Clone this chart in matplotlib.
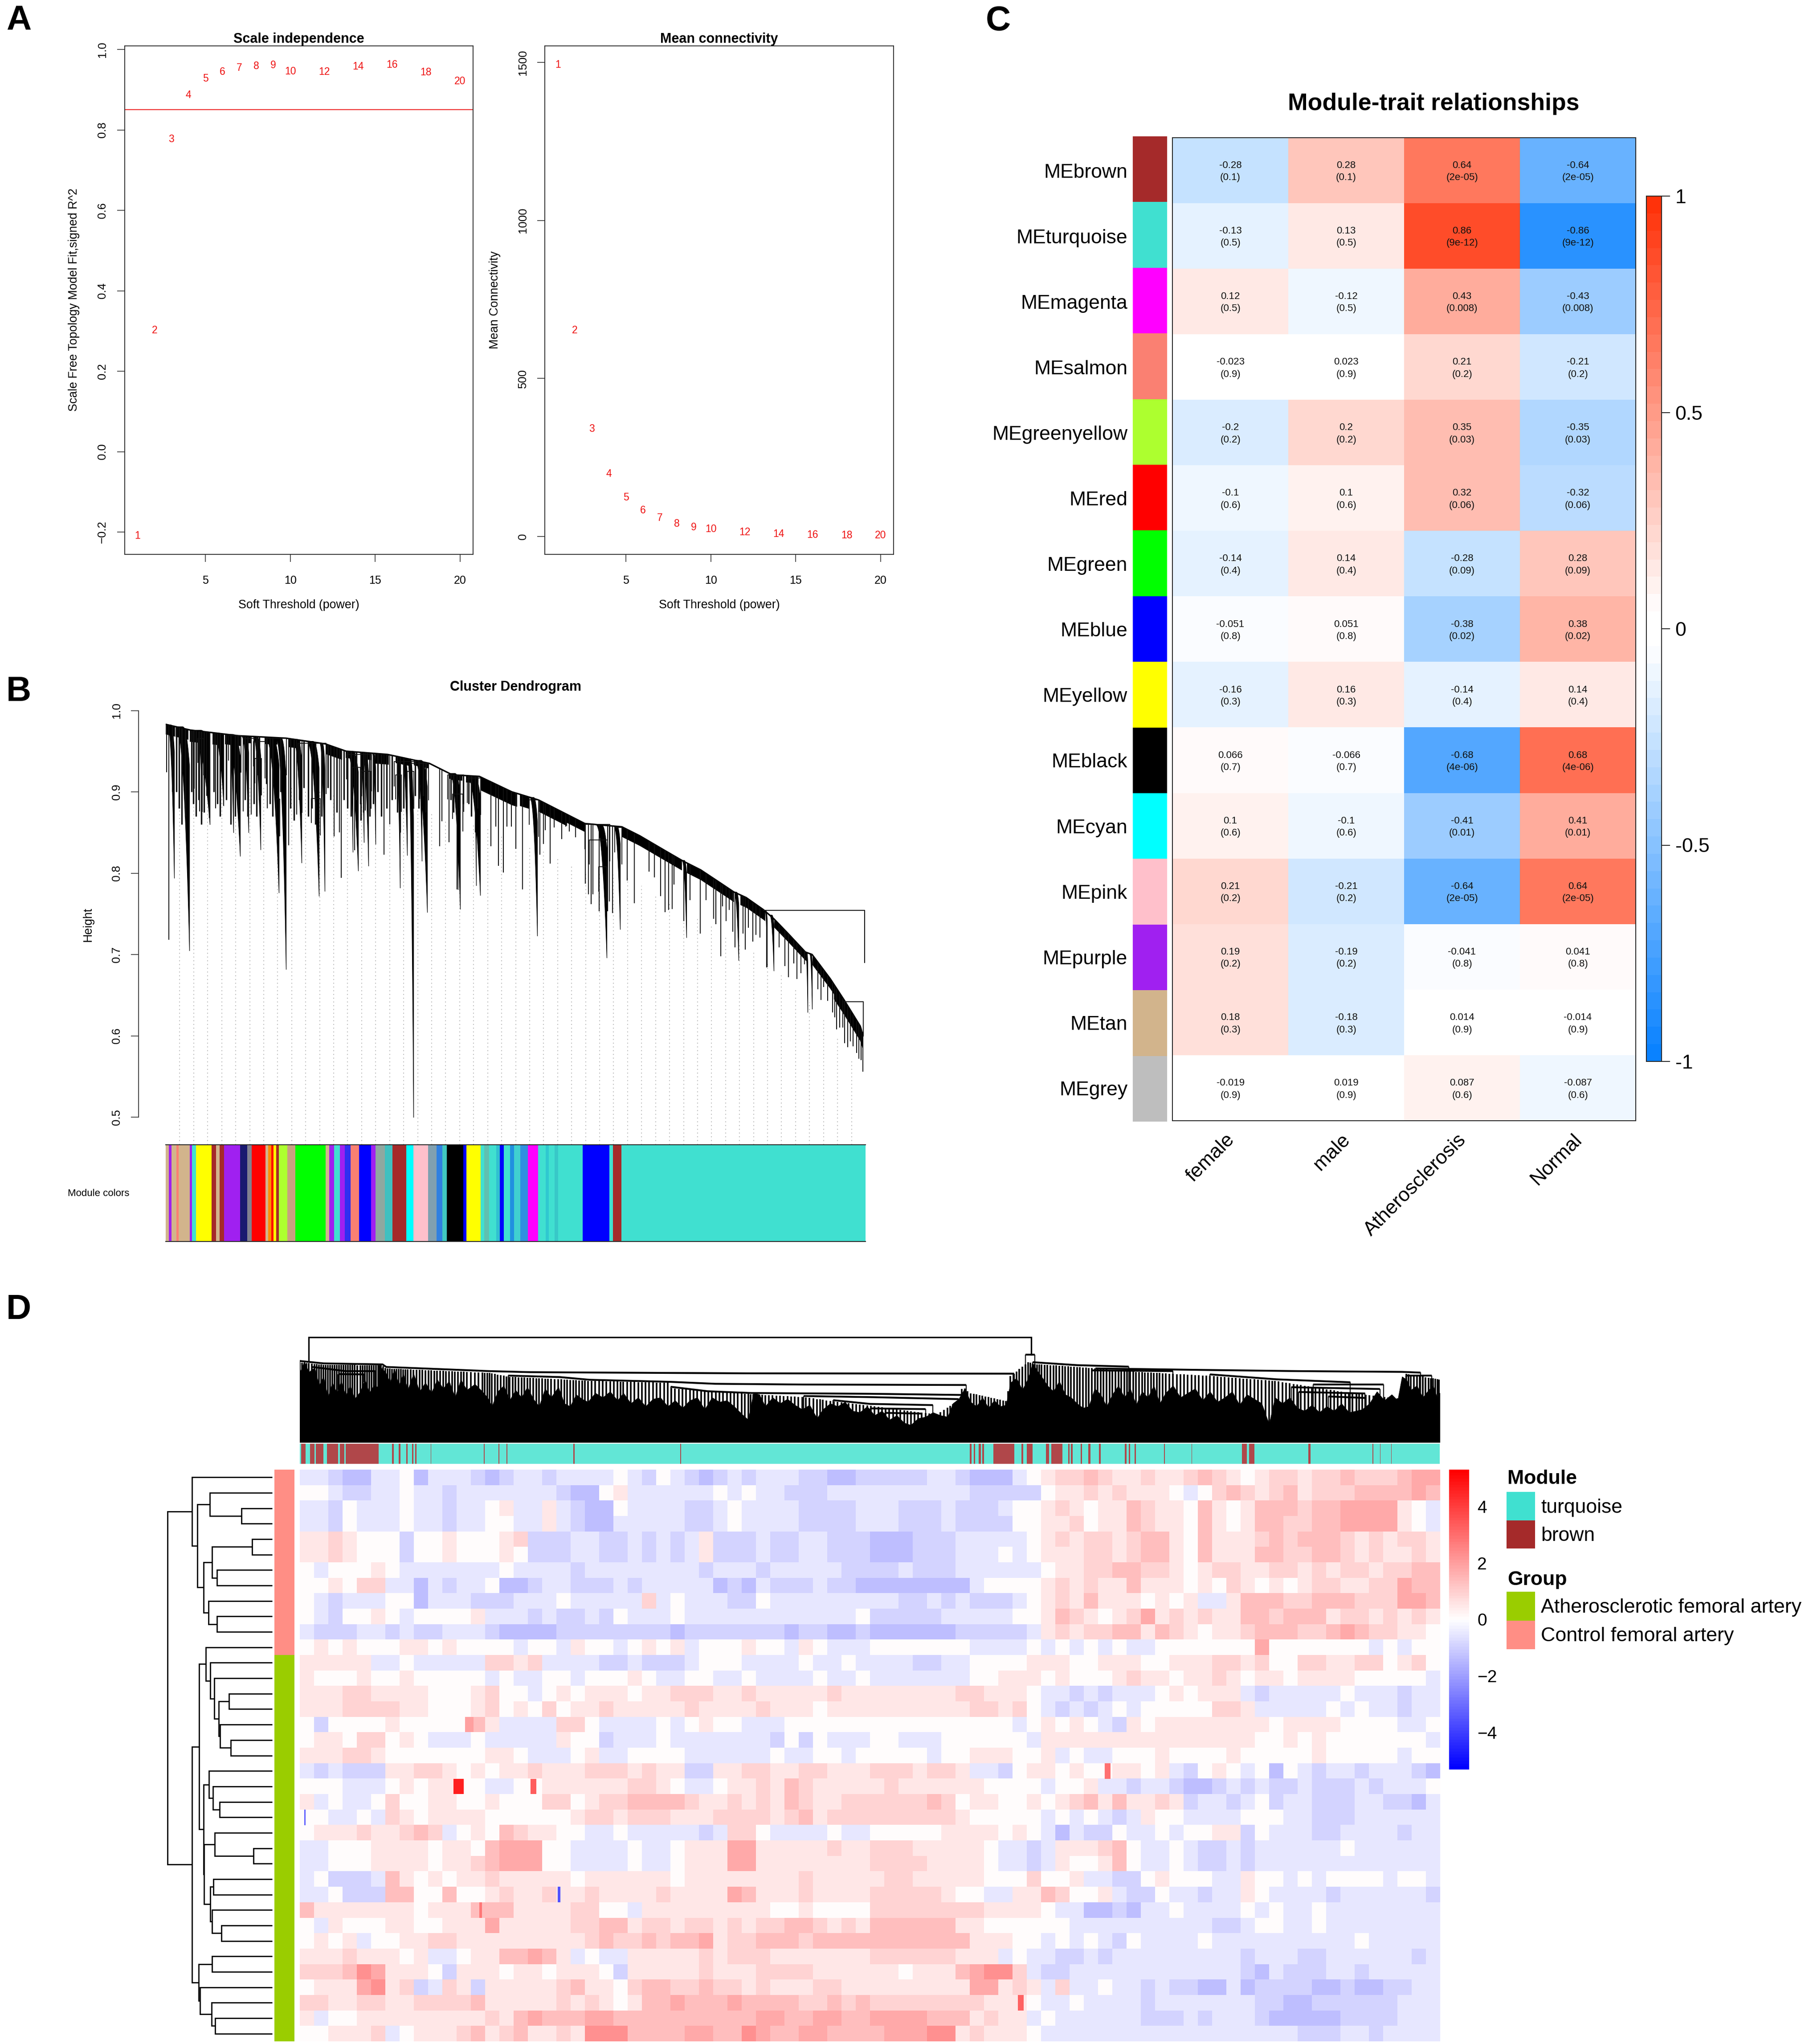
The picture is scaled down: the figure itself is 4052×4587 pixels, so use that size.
import numpy as np
import matplotlib
matplotlib.use("Agg")
import matplotlib.pyplot as plt
from matplotlib.colors import LinearSegmentedColormap
from matplotlib.patches import Rectangle

plt.rcParams['font.family'] = ['Liberation Sans', 'DejaVu Sans']
W, H = 4052, 4587
fig = plt.figure(figsize=(W / 100, H / 100), dpi=100, facecolor='white')

def ax_px(x0, y0, x1, y1, **kw):
    return fig.add_axes([x0 / W, 1 - y1 / H, (x1 - x0) / W, (y1 - y0) / H], **kw)

def ftext(x, y, s, **kw):
    kw.setdefault('ha', 'center')
    kw.setdefault('va', 'center')
    return fig.text(x / W, 1 - y / H, s, **kw)

# ---------- Panel A data ----------
POWERS = [1, 2, 3, 4, 5, 6, 7, 8, 9, 10, 12, 14, 16, 18, 20]
SFT_FIT = [-0.209, 0.301, 0.777, 0.886, 0.927, 0.944, 0.954, 0.958, 0.961, 0.945, 0.944, 0.957, 0.962, 0.943, 0.921]
MEAN_K = [1492, 652, 340, 198, 124, 82, 59, 40, 29, 23, 13, 8, 5, 4, 3]

# ---------- Panel B data (x: leaf position, y: height) ----------
ENV_X = [0, 55, 163, 270, 358, 405, 498, 592, 643, 704, 777, 837, 941, 1024, 1064, 1120, 1161, 1201, 1245, 1275, 1303, 1342, 1365, 1395, 1436, 1451, 1492, 1523, 1559, 1565]
ENV_H = [.983, .976, .969, .966, .959, .950, .946, .935, .921, .919, .900, .890, .861, .857, .846, .828, .815, .804, .788, .777, .770, .755, .744, .727, .703, .700, .670, .644, .612, .601]
BANDS = [(0, 20, .012), (22, 50, .012), (54, 99, .014), (105, 130, .014), (133, 167, .012), (174, 190, .008), (222, 250, .008), (276, 300, .01), (360, 395, .012), (404, 425, .008),
         (440, 460, .008), (470, 500, .012), (516, 545, .008), (557, 590, .006), (636, 665, .006), (674, 700, .008),
         (707, 788, .016), (795, 816, .014), (838, 900, .014), (900, 941, .010), (1024, 1158, .012),
         (1170, 1275, .012), (1290, 1345, .012), (1366, 1440, .010), (1452, 1500, .012), (1500, 1565, .018)]
FANS = [(3, 19, .794), (21, 53, .705), (54, 99, .860), (70, 82, .876), (105, 130, .883), (133, 167, .821), (140, 152, .850),
        (169, 186, .850), (195, 213, .829), (222, 254, .776), (246, 270, .682), (285, 305, .813), (315, 344, .772), (345, 357, .778),
        (404, 432, .803), (412, 420, .826), (440, 455, .809), (435, 445, .838), (463, 471, .836), (516, 526, .782), (530, 542, .822),
        (542, 556, .500), (557, 587, .752), (565, 575, .815), (636, 661, .756), (650, 656, .780), (674, 706, .773), (690, 697, .785),
        (816, 834, .723), (964, 990, .696), (1005, 1020, .731), (1158, 1169, .721), (1275, 1286, .693), (1345, 1350, .685),
        (1355, 1365, .680), (1436, 1441, .629), (1445, 1451, .633)]
SPIKE_X = [2, 7, 15, 64, 76, 92, 112, 130, 174, 192, 228, 276, 294, 306, 360, 378, 390, 394, 424, 448, 490, 503, 615, 620, 636, 654, 695, 730, 741, 747, 758, 766, 776,
           786, 801, 840, 848, 852, 863, 872, 889, 898, 906, 920, 942, 949, 955, 959, 973, 992, 996, 1003, 1036, 1052, 1085, 1097, 1111, 1121, 1129, 1137, 1141, 1163, 1177,
           1200, 1213, 1230, 1235, 1246, 1250, 1258, 1265, 1273, 1278, 1296, 1301, 1308, 1318, 1325, 1334, 1349, 1377, 1390, 1398, 1410, 1417, 1426, 1434, 1464, 1471, 1477, 1486,
           1497, 1502, 1506, 1513, 1520, 1524, 1531, 1537, 1543, 1551, 1556, 1561, 1565]
SPIKE_H = [.924, .718, .90, .904, .876, .895, .880, .883, .876, .872, .880, .834, .872, .874, .897, .845, .850, .794, .828, .877, .823, .860, .833, .864, .838, .780, .850, .833, .857, .809, .801, .857, .857,
           .830, .780, .823, .836, .853, .812, .856, .842, .857, .851, .844, .787, .774, .762, .774, .753, .753, .765, .751, .791, .763, .802, .795, .772, .752, .755, .756, .786, .741, .767,
           .726, .767, .744, .737, .698, .759, .741, .755, .728, .709, .726, .706, .733, .716, .724, .721, .684, .709, .686, .672, .689, .670, .677, .688, .657, .644, .660, .643,
           .629, .623, .608, .610, .610, .591, .586, .593, .587, .579, .572, .570, .556]
SPIKE2_X = [24, 30, 36, 44, 58, 62, 68, 74, 80, 86, 98, 108, 116, 122, 136, 146, 156, 162, 178, 184, 198, 204, 210, 226, 234, 240, 258, 280, 288, 300, 310, 320, 328, 336, 350, 364, 370, 384, 400, 408, 416, 428, 438, 444, 452, 458, 466, 476, 484, 496, 508, 520, 526, 534, 560, 568, 578, 584, 640, 646, 660, 668, 680, 686, 700]
SPIKE2_H = [.90, .88, .86, .87, .90, .885, .87, .89, .86, .875, .868, .90, .885, .87, .89, .86, .87, .88, .89, .87, .885, .87, .89, .91, .885, .87, .90, .88, .865, .89, .905, .87, .88, .86, .87, .905, .89, .875, .89, .88, .87, .89, .865, .875, .89, .87, .885, .90, .87, .88, .89, .875, .85, .88, .895, .88, .895, .875, .89, .875, .88, .885, .885, .87, .88]
BRACKETS = [(297, 360, .960), (141, 169, .969), (197, 223, .962), (223, 271, .966), (174, 207, .966), (406, 462, .946), (513, 570, .937),
            (549, 590, .935), (542, 557, .925), (633, 669, .921), (677, 707, .917), (327, 347, .892), (248, 256, .891), (419, 437, .930),
            (440, 461, .925), (644, 667, .897), (516, 529, .921), (200, 215, .941), (72, 85, .966), (941, 997, .860), (951, 992, .841),
            (1008, 1024, .856), (972, 990, .808), (816, 837, .890)]
TAIL_BRACKET_1 = (1342, 1569, .754, .690)
TAIL_BRACKET_2 = (1523, 1566, .642, .600)
GUIDE_COUNT = 49
MODULE_EDGES = [278, 283, 288, 296, 300, 318, 322, 329, 355, 362, 368, 376, 403, 415, 422, 445, 450, 455, 459, 463, 468, 482, 495, 546, 552, 560, 570, 578, 588, 602, 622, 630, 645, 658, 681, 693, 718, 732, 742, 749, 777, 782, 806, 812, 820, 832, 838, 845, 855, 862, 872, 885, 902, 915, 920, 930, 936, 977, 1022, 1028, 1042, 1451]
MODULE_COLS = ['#D2B48C', '#A020F0', '#D2B48C', '#FA8072', '#D2B48C', '#A020F0', '#40E0D0', '#FFFF00', '#A52A2A', '#D2B48C', '#A52A2A', '#A020F0', '#191970', '#808090', '#FF0000', '#D2B48C', '#FF8C00', '#FF0000', '#FFFF00', '#A52A2A', '#ADFF2F', '#C8A080', '#00FF00', '#D2B48C', '#A020F0', '#40E0D0', '#A020F0', '#3030F0', '#FA8072', '#0000FF', '#A020F0', '#8FA8A0', '#40C0C0', '#A52A2A', '#00FFFF', '#FFC0CB', '#80A0B0', '#3080E0', '#40C8C0', '#000000', '#0000FF', '#FFFF00', '#40E0D0', '#60C0B0', '#40E0D0', '#30C0D0', '#0000FF', '#40E0D0', '#2090E0', '#40D0D0', '#3090E0', '#FF00FF', '#40E0D0', '#30C8D0', '#40E0D0', '#38C8C8', '#40E0D0', '#0000FF', '#40E0D0', '#A52A2A', '#40E0D0']

# ---------- Panel C data ----------
MODULES = ['MEbrown', 'MEturquoise', 'MEmagenta', 'MEsalmon', 'MEgreenyellow', 'MEred', 'MEgreen', 'MEblue', 'MEyellow', 'MEblack', 'MEcyan', 'MEpink', 'MEpurple', 'MEtan', 'MEgrey']
MODULE_STRIP = ['#A52A2A', '#40E0D0', '#FF00FF', '#FA8072', '#ADFF2F', '#FF0000', '#00FF00', '#0000FF', '#FFFF00', '#000000', '#00FFFF', '#FFC0CB', '#A020F0', '#D2B48C', '#BEBEBE']
TRAITS = ['female', 'male', 'Atherosclerosis', 'Normal']
COR = [['-0.28', '0.28', '0.64', '-0.64'], ['-0.13', '0.13', '0.86', '-0.86'], ['0.12', '-0.12', '0.43', '-0.43'],
       ['-0.023', '0.023', '0.21', '-0.21'], ['-0.2', '0.2', '0.35', '-0.35'], ['-0.1', '0.1', '0.32', '-0.32'],
       ['-0.14', '0.14', '-0.28', '0.28'], ['-0.051', '0.051', '-0.38', '0.38'], ['-0.16', '0.16', '-0.14', '0.14'],
       ['0.066', '-0.066', '-0.68', '0.68'], ['0.1', '-0.1', '-0.41', '0.41'], ['0.21', '-0.21', '-0.64', '0.64'],
       ['0.19', '-0.19', '-0.041', '0.041'], ['0.18', '-0.18', '0.014', '-0.014'], ['-0.019', '0.019', '0.087', '-0.087']]
PVAL = [['0.1', '0.1', '2e-05', '2e-05'], ['0.5', '0.5', '9e-12', '9e-12'], ['0.5', '0.5', '0.008', '0.008'],
        ['0.9', '0.9', '0.2', '0.2'], ['0.2', '0.2', '0.03', '0.03'], ['0.6', '0.6', '0.06', '0.06'],
        ['0.4', '0.4', '0.09', '0.09'], ['0.8', '0.8', '0.02', '0.02'], ['0.3', '0.3', '0.4', '0.4'],
        ['0.7', '0.7', '4e-06', '4e-06'], ['0.6', '0.6', '0.01', '0.01'], ['0.2', '0.2', '2e-05', '2e-05'],
        ['0.2', '0.2', '0.8', '0.8'], ['0.3', '0.3', '0.9', '0.9'], ['0.9', '0.9', '0.6', '0.6']]

# ---------- Panel D data ----------
# each row: 80 columns of levels; 4 means 0, each step is 0.45 on the colour scale
HEAT_ROWS = [
 "3321133413 3321233233 3343243212 3233322112 2222332111 3456676556 5567654566 5667666788",
 "4432233433 2333333321 1453333334 3433222333 3333333222 2245565655 5434676567 5666777787",
 "3324333433 2334533532 1143333223 4333322223 3322232223 4456545576 5547545777 6778888543",
 "3324333433 2334433532 1133333223 4333322223 3322232222 4455645576 5547545776 6778888543",
 "5565444244 5444562223 3223232352 2232233222 1112223333 3456566567 7547555676 7776565665",
 "5565444244 5444542223 3223232352 2232233222 1112223334 3455566567 7547555776 6776565565",
 "4344454333 3333433332 3333333323 3323333322 2232223333 3345566776 6545665566 5656656677",
 "4454663313 2334112332 2232333331 2132223221 1111111344 4456565575 5545465454 5665566877",
 "4323334413 3322233343 3333634333 2243333333 3322323222 3456575554 5453357776 6777666887",
 "4324454344 4453332322 3243334333 3333333334 2222233333 4457654568 5656557767 7756656565",
 "3222332322 3332111122 2222221222 2222122112 1111112222 2356566775 7654556777 6678766554",
 "4545444554 5444434435 4434545344 4544354333 4444444333 3434343433 4444444844 4444434344",
 "5555533433 3336656333 3223222344 4333343343 3332233444 4555445554 4555665644 6655664564",
 "5444544544 4443433443 4445433443 3433334334 3333333445 5545444565 5455654554 5555444443",
 "5556655554 4456443454 5554556665 5655555655 5555556655 5433232333 4545553233 3334333233",
 "5556666554 4456454645 5655555655 5565554555 5555555665 6432323434 4444665333 3343433233",
 "4244445444 4475333366 4333343454 4333444444 4444444444 3454543254 5555555545 5554444334",
 "4554664543 3343333354 4233343333 3332424333 4433344444 4355555555 5555555445 4544444443",
 "5556654444 4445543334 5334444333 3334334434 4444344555 4453433444 5444454444 4544444344",
 "3232225566 5454556555 6665655225 5665566555 6665665332 4554544554 5324543414 3233233321",
 "4443334545 5443344555 5556654334 5565765555 5655555544 4434453323 3211232322 3222323334",
 "5343346445 5445444664 5667777655 6565765566 6666764554 4545675755 6523323423 3222332213",
 "4433436545 5554444445 6656665556 6665675666 6666665444 4434343235 4433334443 3222333333",
 "4555655676 3454765544 3343333323 6643333433 4444455554 5431322433 4344552433 3223333233",
 "3344455554 5547888443 3334334555 8855555655 6665555543 3235556743 3432232333 3334333333",
 "3344455554 5567888443 3334334555 8855555555 6666555543 3235445743 3432232333 3333333333",
 "3422237545 4556555554 5555554555 5555565555 5665555544 4644533224 5444335443 4344443443",
 "3342227744 7445655655 6555565555 8755565555 6666654433 5576445322 4332335433 3323333332",
 "7555555545 5577755556 6443555555 5554454444 6666666655 5543311213 3433334343 3433333333",
 "4354445544 5558555556 6775665665 6566776565 7777775544 4444333333 3333223443 3433333333",
 "4545344556 6555555555 6766767785 6677767777 7777777555 4434343243 3334333333 3333433333",
 "5556555453 3455778753 4335555565 6665555555 6666665553 4332232333 3333332333 2233333323",
 "6667985554 2555455455 5425555565 5566665555 5545557899 6322333333 3333332132 2233233333",
 "4555895623 6525555567 5546776676 6565556655 5555555885 6536334332 3221131222 2112112233",
 "6655665566 6675555565 6545778777 8777766767 6666666655 5433433332 3333333221 1222222333",
 "5344555555 5556578777 8877777777 7788778877 8888777565 5343333332 2232333211 1112222333",
 "4455563455 5675675565 9997777887 7987788777 7888995655 5433333333 3333333333 2223323333",
]
LEVEL_STEP = 0.45
# narrow intense stripes: row, first column, last column, value
THIN_ROW = [20, 20, 19, 27, 22, 34, 16, 28]
THIN_C0 = [10.3, 15.7, 56.0, 17.6, -0.2, 49.9, 11.1, 12.1]
THIN_C1 = [11.0, 16.1, 56.4, 17.8, -0.1, 50.3, 11.7, 12.3]
THIN_VAL = [4.6, 3.3, 2.9, -3.6, -3.2, 3.2, 2.0, 2.8]
HEAT_LIM = 5.32
N_CONTROL = 12
N_ATHERO = 25
# nested merges: (height, left, right) with leaves as row numbers
ROW_TREE = (235,
    (180, 0, (168, (140, 1, (69, 2, 3)),
              (154, (135, (45, 4, 5), (124, 6, 7)), (143, 8, (124, 9, 10))))),
    (180,
     (164, (149, 11, (139, 12, (130, 13, (120, (97, 14, 15), (117, 16, (93, 17, 18)))))),
           (154, (142, 19, (133, 20, (118, 21, 22))),
                 (153, (129, 23, (42, 24, 25)),
                       (139, (132, 26, 27), (135, 28, (114, 29, 30)))))),
     (165, (135, 31, 32), (162, 33, (136.5, 34, (128, 35, 36))))))
# column dendrogram: floor of the solid mass, and the height its hair lines reach
MASS_X = [8,14,20,28,34,40,46,52,58,64,70,76,82,90,96,102,108,114,118,124,130,136,142,148,154,162,170,178,186,194,202,210,218,226,234,245,255,262,268,276,284,292,300,308,316,324,332,340,348,358,366,374,382,390,398,408,418,428,438,446,456,466,476,486,496,506,516,526,536,546,556,566,576,586,596,606,615,622,630,638,648,658,668,678,688,698,708,716,726,736,746,756,766,776,786,796,806,816,826,835,845,855,865,875,885,892,900,908,916,924,932,940,948,956,964,970,978,986,994,1000,1006,1012,1020,1028,1036,1044,1052,1060,1068,1076,1084,1092,1100,1108,1116,1124,1132,1140,1148,1156,1164,1172,1180,1190,1200,1210,1220,1230,1240,1250,1260,1270,1280,1290,1300,1310,1320,1328,1338,1348,1358,1368,1378,1388,1398,1408,1418,1428,1438,1446,1456,1466,1476,1486,1494,1500,1506,1512,1520,1528,1536,1542,1548,1551]
MASS_H = [467,540,470,500,380,440,300,400,330,410,310,380,290,340,420,330,380,370,500,470,400,490,380,460,350,460,340,400,330,420,360,410,300,420,350,390,340,300,240,340,380,280,350,300,370,290,240,360,300,370,260,240,320,290,270,330,300,340,280,330,260,300,240,290,300,240,280,230,280,300,220,300,270,280,240,190,150,330,320,240,300,260,290,250,220,250,160,220,260,240,270,210,200,240,180,210,150,180,130,115,160,170,200,180,170,260,290,360,270,240,300,230,280,240,250,400,430,350,430,530,480,440,380,340,410,320,300,260,230,240,360,320,240,320,380,300,360,250,340,300,380,260,330,380,300,330,360,280,340,270,300,340,250,320,290,260,120,300,260,300,230,210,250,200,240,210,260,200,210,220,260,340,280,320,280,440,420,350,380,300,350,380,290,330]
UPPER_X = [8, 40, 120, 125, 265, 290, 400, 510, 511, 620, 690, 730, 780, 870, 900, 905, 915, 965, 970, 995, 1000, 1060, 1130, 1240, 1330, 1430, 1500, 1505, 1551]
UPPER_H = [535, 520, 515, 495, 465, 440, 412, 398, 362, 322, 302, 275, 245, 185, 280, 375, 330, 275, 445, 540, 525, 505, 475, 445, 410, 330, 290, 460, 420]
TOP_BRACKET = (20, 998, 705, 545, 587)
STAIRS = [
 [(8,545),(40,529),(120,522),(125,505),(265,477),(320,470),(425,467),(620,462),(975,460)],
 [(290,447),(360,437),(400,419),(510,405),(570,392),(690,387),(910,384)],
 [(510,372),(560,342),(620,330),(780,325),(905,317)],
 [(690,310),(785,302),(900,289)],
 [(730,282),(780,257),(865,249)],
 [(780,227),(855,222)],
 [(800,197),(850,192)],
 [(25,505),(70,477),(110,477)],
 [(60,457),(95,455)],
 [(990,587),(1003,587)],
 [(1000,537),(1060,517),(1130,507)],
 [(1085,495),(1230,485),(1360,477),(1500,472),(1525,467)],
 [(1080,482),(1190,477)],
 [(1240,455),(1330,422),(1430,402)],
 [(1380,387),(1475,387)],
 [(1350,369),(1470,357)],
 [(1360,337),(1450,327)],
 [(1400,307),(1450,297)],
 [(1505,447),(1540,447)],
]
BROWN_SPANS = [(10,16),(22,28),(30,40),(45,60),(62,68),(70,115),(133,135),(142,144),(152,154),(160,162),(164,166),(185,186),(257,258),(277,278),(288,289),(378,380),(523,524),
               (915,917),(920,922),(927,930),(932,934),(947,975),(985,987),(992,1000),(1018,1022),(1025,1040),(1048,1050),(1052,1054),(1065,1067),(1075,1078),(1090,1092),(1125,1127),(1130,1132),(1138,1140),(1178,1179),(1215,1216),(1283,1290),(1293,1300),(1373,1376),(1460,1461),(1470,1471),(1485,1486)]
MODULE_LEGEND = ['turquoise', 'brown']
GROUP_LEGEND = ['Atherosclerotic femoral artery', 'Control femoral artery']
LINE = '#222222'

# ================= Panel A =================
for (box, xl, yl, xs, ys, yticks, ytl, title, ylabel, ylx, tlx) in [
    ((280, 103, 1062, 1244), (0.25, 20.77), (-0.2554, 1.0089), POWERS, SFT_FIT,
     [-0.2, 0, 0.2, 0.4, 0.6, 0.8, 1.0], ['\u22120.2', '0.0', '0.2', '0.4', '0.6', '0.8', '1.0'],
     'Scale independence', 'Scale Free Topology Model Fit,signed R^2', 166, 230),
    ((1223, 103, 2006, 1244), (0.227, 20.76), (-56.4, 1552), POWERS, MEAN_K,
     [0, 500, 1000, 1500], ['0', '500', '1000', '1500'], 'Mean connectivity', 'Mean Connectivity', 1111, 1174)]:
    ax = ax_px(*box)
    ax.set_xlim(xl); ax.set_ylim(yl)
    for x, y in zip(xs, ys):
        ax.text(x, y, str(x), color='#EE1111', fontsize=16.5, ha='center', va='center')
    ax.set_xticks([5, 10, 15, 20])
    ax.set_yticks(yticks)
    ax.set_yticklabels([])
    ax.tick_params(length=12, width=1.1, color=LINE, labelsize=18, pad=22)
    for s in ax.spines.values():
        s.set_linewidth(1.3); s.set_color(LINE)
    for t, lab in zip(yticks, ytl):
        ypx = box[1] + (yl[1] - t) / (yl[1] - yl[0]) * (box[3] - box[1])
        ftext(tlx, ypx, lab, rotation=90, fontsize=18.5)
    ftext((box[0] + box[2]) / 2, 88, title, fontsize=22, fontweight='bold')
    ftext((box[0] + box[2]) / 2, 1358, 'Soft Threshold (power)', fontsize=19.3)
    ftext(ylx, 673, ylabel, rotation=90, fontsize=19.3)
    if title.startswith('Scale'):
        ax.axhline(0.85, color='#EE3333', lw=1.6)

# ================= Panel B =================
axb = ax_px(372, 1560, 1943, 2569)
hbot = 1 - (2569 - 1594.5) / 1825
htop = 1 + (1594.5 - 1560) / 1825
axb.set_xlim(0, 1571); axb.set_ylim(hbot, htop)
axb.patch.set_alpha(0)
def env(x):
    return np.interp(x, ENV_X, ENV_H)
guides = np.arange(1, GUIDE_COUNT + 1) * 1571 / (GUIDE_COUNT + 1)
axb.vlines(guides, hbot, env(guides) - 0.06, color='#A8A8A8', lw=1.1, linestyles=(0, (1.5, 4)), zorder=1)
axb.plot(ENV_X, ENV_H, color='k', lw=2.4, zorder=3, solid_joinstyle='miter')
for x0, x1, th in BANDS:
    xx = np.linspace(x0, x1, 60)
    axb.fill_between(xx, env(xx) - th, env(xx), color='k', lw=0.5, zorder=3)
for x0, x1, tip in FANS:
    s = np.linspace(0, 1, 60)
    xx = x0 + (x1 - x0) * s
    top = float(env(x0))
    low = top - (top - tip) * s ** 2.5
    up = top - (top - tip) * np.clip(s - 0.5, 0, None) ** 2.5
    axb.fill_between(xx, low, up, color='k', lw=0.8, zorder=3)
axb.vlines(SPIKE_X, SPIKE_H, env(np.array(SPIKE_X)), color='#111111', lw=1.5, zorder=3)
axb.vlines(SPIKE2_X, SPIKE2_H, env(np.array(SPIKE2_X)), color='#111111', lw=2.4, zorder=3)
for x0, x1, h in BRACKETS:
    axb.plot([x0, x0, x1, x1], [h - 0.03, h, h, h - 0.045], color='#111111', lw=1.3, zorder=3)
for x0, x1, h, lo in (TAIL_BRACKET_1, TAIL_BRACKET_2):
    axb.plot([x0, x1, x1], [h, h, lo], color='#111111', lw=1.5, zorder=3)
for s in ('top', 'right', 'bottom'):
    axb.spines[s].set_visible(False)
axb.spines['left'].set_position(('outward', 44))
axb.spines['left'].set_bounds(0.5, 1.0)
axb.spines['left'].set_linewidth(1.2)
axb.spines['left'].set_color(LINE)
axb.set_xticks([])
axb.set_yticks([0.5, 0.6, 0.7, 0.8, 0.9, 1.0])
axb.set_yticklabels([])
axb.tick_params(length=12, width=1.1, color=LINE)
for t in [0.5, 0.6, 0.7, 0.8, 0.9, 1.0]:
    ftext(262, 1594.5 + (1 - t) * 1825, f'{t:.1f}', rotation=90, fontsize=18.5)
ftext(198, 2074, 'Height', rotation=90, fontsize=19.3)
ftext(1157, 1542, 'Cluster Dendrogram', fontsize=22, fontweight='bold')
ftext(221, 2678, 'Module colors', fontsize=16)

axm = ax_px(372, 2569, 1943, 2786)
axm.set_xlim(278, 1451); axm.set_ylim(0, 1)
for i, c in enumerate(MODULE_COLS):
    axm.axvspan(MODULE_EDGES[i], MODULE_EDGES[i + 1], color=c, lw=0)
axm.set_xticks([]); axm.set_yticks([])
for s in ('left', 'right'):
    axm.spines[s].set_visible(False)
for s in ('top', 'bottom'):
    axm.spines[s].set_linewidth(1.4); axm.spines[s].set_color(LINE)

# ================= Panel C =================
n_rows = len(MODULES)
COR_VAL = np.array([[float(v) for v in r] for r in COR])
top_rgb = np.array([255, 50, 10]) / 255
bot_rgb = np.array([10, 130, 255]) / 255
bwr50 = LinearSegmentedColormap.from_list('bwr50', [(0, bot_rgb), (0.48, (1, 1, 1)), (0.52, (1, 1, 1)), (1, top_rgb)], N=50)
axc = ax_px(2632, 308.5, 3672, 2515)
axc.pcolormesh(np.arange(5), np.arange(n_rows + 1), COR_VAL, cmap=bwr50, vmin=-1, vmax=1)
axc.set_xlim(0, 4); axc.set_ylim(n_rows, 0)
axc.set_xticks([]); axc.set_yticks([])
for s in axc.spines.values():
    s.set_linewidth(1.4); s.set_color(LINE)
rowh = (2515 - 308.5) / n_rows
for i in range(n_rows):
    for j in range(4):
        axc.text(j + .5, i + .5 + (3 - 13.7) / rowh, COR[i][j], fontsize=16, ha='center', va='center', color='#111111')
        axc.text(j + .5, i + .5 + (3 + 13.7) / rowh, f'({PVAL[i][j]})', fontsize=16, ha='center', va='center', color='#111111')
    ftext(2531, 308.5 + rowh * (i + .5) + 5, MODULES[i], ha='right', fontsize=32)
axs = ax_px(2543, 306, 2620, 2517)
axs.barh(np.arange(n_rows) + .5, 1, height=1, color=MODULE_STRIP)
axs.set_xlim(0, 1); axs.set_ylim(n_rows, 0); axs.axis('off')
for j, t in enumerate(TRAITS):
    ftext(2632 + 260 * (j + .5) - 12, 2537, t, rotation=45, rotation_mode='anchor', ha='right', va='top', fontsize=32)
ftext(3218, 233, 'Module-trait relationships', fontsize=38.5, fontweight='bold')
axcb = ax_px(3696, 440, 3730, 2382)
lv = np.linspace(-1, 1, 51)
axcb.pcolormesh([0, 1], lv, ((lv[:-1] + lv[1:]) / 2)[:, None], cmap=bwr50, vmin=-1, vmax=1)
axcb.set_xticks([])
axcb.yaxis.tick_right()
axcb.set_yticks([-1, -.5, 0, .5, 1]); axcb.set_yticklabels(['-1', '-0.5', '0', '0.5', '1'], fontsize=32)
axcb.tick_params(length=14, width=1.4, color=LINE, pad=8)
for s in axcb.spines.values():
    s.set_linewidth(1.4); s.set_color(LINE)

# ================= Panel D =================
hm = np.array([[(int(c) - 4) * LEVEL_STEP for c in r.replace(' ', '')] for r in HEAT_ROWS])
rb_cmap = LinearSegmentedColormap.from_list('rb', ['#0000FF', '#FFFFFF', '#FF0000'], N=100)
axh = ax_px(673, 3298, 3232, 4581)
axh.imshow(hm, cmap=rb_cmap, vmin=-HEAT_LIM, vmax=HEAT_LIM, aspect='auto', interpolation='nearest')
for r, c0, c1, v in zip(THIN_ROW, THIN_C0, THIN_C1, THIN_VAL):
    axh.add_patch(Rectangle((c0, r - .5), c1 - c0, 1, color=rb_cmap((v + HEAT_LIM) / (2 * HEAT_LIM)), lw=0))
axh.axis('off')

axg = ax_px(616, 3298, 661, 4581)
axg.barh(np.arange(N_CONTROL) + .5, 1, height=1, color='#FF8E85')
axg.barh(np.arange(N_CONTROL, N_CONTROL + N_ATHERO) + .5, 1, height=1, color='#9ACD00')
axg.set_xlim(0, 1); axg.set_ylim(N_CONTROL + N_ATHERO, 0); axg.axis('off')

axr = ax_px(370, 3298, 612, 4581)
axr.set_xlim(241, -1); axr.set_ylim(N_CONTROL + N_ATHERO, 0); axr.axis('off')
def draw_tree(node):
    if not isinstance(node, tuple):
        return 0.0, node + 0.5
    h, a, b = node
    ha, ya = draw_tree(a)
    hb, yb = draw_tree(b)
    axr.plot([ha, h, h, hb], [ya, ya, yb, yb], color='k', lw=2.0, solid_joinstyle='miter', solid_capstyle='butt')
    return h, (ya + yb) / 2
h_root, y_root = draw_tree(ROW_TREE)

axd = ax_px(673, 2980, 3232, 3236.5)
axd.set_xlim(8, 1551); axd.set_ylim(0, 767)
axd.axis('off')
mass_x = np.array(MASS_X, float)
axd.fill_between(mass_x, 0, MASS_H, color='k', lw=0.8)
hair_x = np.concatenate([mass_x, (mass_x[:-1] + mass_x[1:]) / 2])
axd.vlines(hair_x, 0, np.interp(hair_x, UPPER_X, UPPER_H), color='k', lw=2.6)
x0, x1, ht, l0, l1 = TOP_BRACKET
axd.plot([x0, x0, x1, x1], [l0, ht, ht, l1], color='k', lw=2.4, solid_joinstyle='miter')
mass_at = lambda x: np.interp(x, MASS_X, MASS_H)
for st in STAIRS:
    xs_, ys_ = zip(*st)
    axd.plot(xs_, ys_, color='k', lw=3.0, solid_capstyle='butt')
    axd.vlines([xs_[0], xs_[-1]], [mass_at(xs_[0]) - 5, mass_at(xs_[-1]) - 5], [ys_[0], ys_[-1]], color='k', lw=1.6)

axk = ax_px(673, 3240, 3232, 3285)
axk.set_xlim(8, 1551); axk.set_ylim(0, 1); axk.set_facecolor('#62E6D6')
for a, b in BROWN_SPANS:
    axk.axvspan(a, b, color='#B0474A', lw=0)
axk.set_xticks([]); axk.set_yticks([])
for s in axk.spines.values():
    s.set_visible(False)

axq = ax_px(3253, 3298, 3298, 3971)
lv2 = np.linspace(-HEAT_LIM, HEAT_LIM, 101)
axq.pcolormesh([0, 1], lv2, ((lv2[:-1] + lv2[1:]) / 2)[:, None], cmap=rb_cmap, vmin=-HEAT_LIM, vmax=HEAT_LIM)
axq.set_xticks([])
axq.yaxis.tick_right()
axq.set_yticks([-4, -2, 0, 2, 4]); axq.set_yticklabels(['\u22124', '\u22122', '0', '2', '4'], fontsize=28)
axq.tick_params(length=0, pad=13)
for s in axq.spines.values():
    s.set_visible(False)

leg = ax_px(3382, 3348, 3446, 3475)
leg.barh([1.5, .5], 1, height=1, color=['#40E0D0', '#A52A2A']); leg.set_xlim(0, 1); leg.set_ylim(0, 2); leg.axis('off')
leg2 = ax_px(3382, 3572, 3446, 3701)
leg2.barh([1.5, .5], 1, height=1, color=['#9ACD00', '#FF8E85']); leg2.set_xlim(0, 1); leg2.set_ylim(0, 2); leg2.axis('off')
ftext(3384, 3319, 'Module', ha='left', fontsize=32, fontweight='bold')
ftext(3384, 3545, 'Group', ha='left', fontsize=32, fontweight='bold')
for t, y in zip(MODULE_LEGEND, (3383, 3447)):
    ftext(3459, y, t, ha='left', fontsize=32)
for t, y in zip(GROUP_LEGEND, (3607, 3672)):
    ftext(3459, y, t, ha='left', fontsize=32.3)

# ================= Panel letters =================
for s, x, y in (('A', 14, 67), ('B', 14, 1573), ('C', 2213, 68), ('D', 14, 2960)):
    ftext(x, y, s, ha='left', va='baseline', fontsize=56, fontweight='bold')

fig.savefig('out.png', dpi=100, facecolor='white')
